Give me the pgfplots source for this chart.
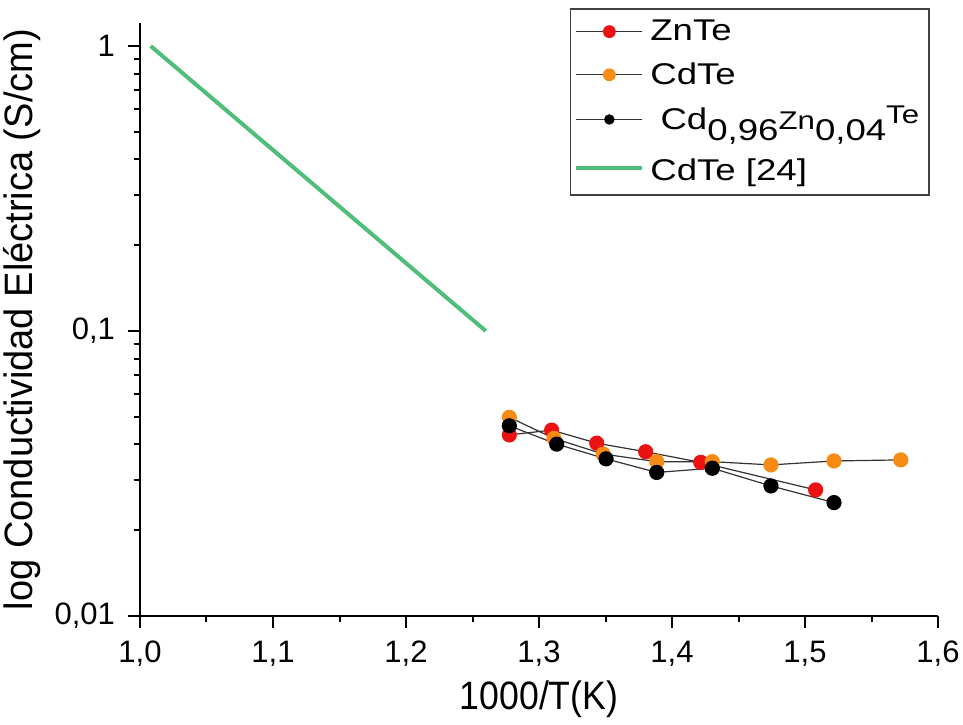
\documentclass[border=0pt]{standalone}
\usepackage{pgfplots}
\pgfplotsset{compat=1.18}
\usepackage{fontspec}
\setmainfont{Liberation Sans}
\newfontfamily\xlabelfont{Liberation Sans}[FakeStretch=0.9]
\newfontfamily\ylabelfont{Liberation Sans}[FakeStretch=0.96]
\newfontfamily\legfont{Liberation Sans}[FakeStretch=1.22]
\definecolor{znred}{RGB}{237,18,18}
\definecolor{cdorange}{RGB}{246,140,22}
\definecolor{refgreen}{RGB}{78,190,122}
\pgfplotsset{mylegend/.style={legend image code/.code={\draw[mark repeat=2,mark phase=2,##1,mark size=#1] plot coordinates {(0pt,0pt)(16.5pt,0pt)(33pt,0pt)};}}}
\begin{document}
\begin{tikzpicture}
\path[use as bounding box] (-70pt,-54pt) rectangle (411.5pt,308pt);
\begin{axis}[
  at={(0,0)}, anchor=south west,
  scale only axis, width=399pt, height=296.5pt,
  ymode=log, xmin=1.0, xmax=1.6, ymin=0.01, ymax=1.204,
  axis x line*=bottom, axis y line*=left,
  axis line style={line width=1pt},
  tick align=outside, major tick length=6pt, minor tick length=3.2pt,
  every tick/.style={black, line width=1pt},
  xtick={1.0,1.1,1.2,1.3,1.4,1.5,1.6}, minor x tick num=1,
  ytick={0.01,0.1,1},
  log ticks with fixed point,
  /pgf/number format/assume math mode=true,
  /pgf/number format/use comma,
  xticklabel style={yshift=-3pt, /pgf/number format/.cd, fixed, fixed zerofill, precision=1, use comma},
  yticklabel style={xshift=-3pt},
  ticklabel style={font=\fontsize{15.5}{18}\selectfont},
  xlabel={1000/T(K)},
  ylabel={log Conductividad Eléctrica (S/cm)},
  xlabel style={font=\xlabelfont\fontsize{19.8}{22}\selectfont},
  ylabel style={font=\ylabelfont\fontsize{19.8}{22}\selectfont},
  legend style={at={(0.99,1.0253)}, anchor=north east, draw=black!75, line width=0.8pt,
    font=\legfont\fontsize{15}{18}\selectfont, cells={anchor=west}, row sep=3.5pt,
    nodes={inner sep=3pt}, inner xsep=2pt, inner ysep=2.5pt},
]
\addplot[mylegend=2.9pt, black!80, line width=0.6pt, mark=*, mark size=3.5pt, mark options={draw=znred, fill=znred}]
 coordinates {(1.2777,0.0432)(1.3095,0.0449)(1.3434,0.0404)(1.3802,0.0377)(1.4216,0.0346)(1.5080,0.0277)};
\addlegendentry{ZnTe}
\addplot[mylegend=2.9pt, black!80, line width=0.6pt, mark=*, mark size=3.5pt, mark options={draw=cdorange, fill=cdorange}]
 coordinates {(1.2777,0.0498)(1.3113,0.0420)(1.3483,0.0370)(1.3885,0.0348)(1.4303,0.0348)(1.4744,0.0339)(1.5218,0.0350)(1.5720,0.0353)};
\addlegendentry{CdTe}
\addplot[mylegend=2.3pt, black!80, line width=0.6pt, mark=*, mark size=3.5pt, mark options={draw=black, fill=black}]
 coordinates {(1.2777,0.0465)(1.3133,0.0401)(1.3504,0.0356)(1.3885,0.0319)(1.4303,0.0330)(1.4744,0.0286)(1.5218,0.0250)};
\addlegendentry{\ Cd\raisebox{-5.5pt}{0,96}{\fontsize{12.8}{14}\selectfont Zn}\raisebox{-5.5pt}{0,04}\raisebox{3pt}{\fontsize{12.8}{14}\selectfont Te}}
\addplot[mylegend=2pt, refgreen, line width=2pt, mark=none]
 coordinates {(1.008,1.0)(1.26,0.1)};
\addlegendentry{\rule{0pt}{14.5pt}CdTe [24]}
\end{axis}
\end{tikzpicture}
\end{document}
